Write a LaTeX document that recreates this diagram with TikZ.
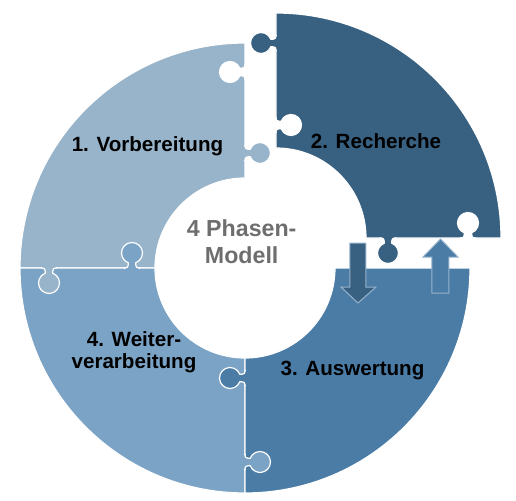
\documentclass[tikz,border=0pt]{standalone}
\usepackage{fontspec}
\setmainfont{Liberation Sans}
\usepackage{tikz}
\usetikzlibrary{calc,positioning}

\definecolor{vorb}{RGB}{152,180,202}
\definecolor{recher}{RGB}{56,96,128}
\definecolor{ausw}{RGB}{74,124,166}
\definecolor{weiter}{RGB}{123,163,197}
\definecolor{titelgrau}{RGB}{110,110,110}
\definecolor{pfeilrand}{RGB}{150,178,204}

\begin{document}
\begin{tikzpicture}[x=0.5pt,y=0.5pt,
    teil/.style={draw=white,line width=0.6pt},
    phaselabel/.style={font=\bfseries\fontsize{10.3}{11}\selectfont,text=black,inner sep=0pt,align=center}]
            \useasboundingbox (-245,-232) rectangle (271,268);
            % die vier Puzzleteile
            \filldraw[teil,fill=vorb] (-225,0) arc[start angle=180,end angle=90,radius=225] -- (0,90) arc[start angle=90,end angle=180,radius=90] -- cycle;
            \filldraw[teil,fill=weiter] (-225,0) -- (-90,0) arc[start angle=180,end angle=270,radius=90] -- (0,-225) arc[start angle=270,end angle=180,radius=225] -- cycle;
            \filldraw[teil,fill=ausw] (0,-90) arc[start angle=270,end angle=360,radius=90] -- (225,0) arc[start angle=0,end angle=-90,radius=225] -- cycle;
            \filldraw[teil,fill=recher] (31,255) arc[start angle=90,end angle=0,radius=225] -- (121,30) arc[start angle=0,end angle=90,radius=90] -- cycle;
            % Nasen und Aussparungen
            \foreach \kx/\ky/\rot/\col in {-113/0/0/weiter,-196/0/180/vorb,0/115/-90/vorb,0/196/90/white,31/225/90/recher,31/143/-90/white,223/30/0/white,143/30/180/recher,0/-110/90/ausw,0/-194/-90/weiter}
              {
                \filldraw[teil,fill=\col,shift={(\kx,\ky)},rotate=\rot] (-7.5,-1) -- (-7.5,0) .. controls (-4.3,0) and (-3.8,1.5) .. (-3.8,3) -- (-3.8,5.2) arc[start angle=248.8,end angle=-68.8,radius=10.5] -- (3.8,3) .. controls (3.8,1.5) and (4.3,0) .. (7.5,0) -- (7.5,-1);
              }
            % Pfeile
            \filldraw[fill=recher,draw=pfeilrand,line width=0.5pt] (105,25) -- (121,25) -- (121,-19) -- (131,-19) -- (113,-35) -- (96,-19) -- (105,-19) -- cycle;
            \filldraw[fill=ausw,draw=pfeilrand,line width=0.5pt] (187,-25) -- (204,-25) -- (204,11) -- (213,11) -- (195.5,29) -- (178,11) -- (187,11) -- cycle;
            % Beschriftung
            \node[phaselabel,anchor=base] (vorbereitung) at (-97.5,116.3) {1. Vorbereitung};
            \node[phaselabel,anchor=base] (recherche) at (131,119.7) {2. Recherche};
            \node[phaselabel,anchor=base] (auswertung) at (107.5,-107) {3. Auswertung};
            \node[phaselabel,anchor=base] (weiterverarb) at (-111,-100.3) {4. Weiter-\\verarbeitung};
            \node[phaselabel,anchor=base,text=titelgrau,font=\bfseries\fontsize{11.6}{13.4}\selectfont] (titel) at (-3.3,4.7) {4 Phasen-\\Modell};
          \end{tikzpicture}
\end{document}
